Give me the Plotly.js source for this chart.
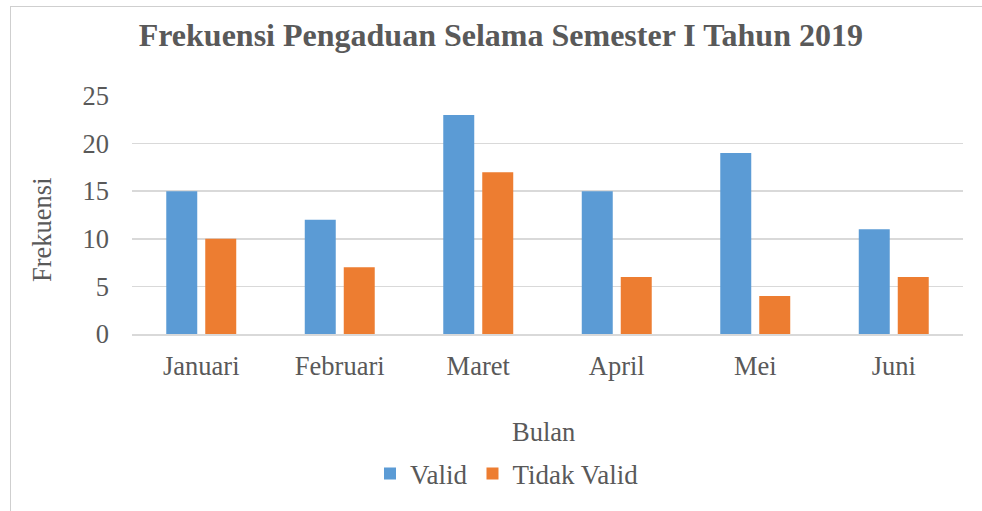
<!DOCTYPE html>
<html>
<head>
<meta charset="utf-8">
<script src="https://cdn.plot.ly/plotly-3.0.1.min.js"></script>
<style>
html,body{margin:0;padding:0;background:#fff;}
#frame{position:absolute;left:10px;top:6px;width:1000px;height:600px;border-left:1.5px solid #cfcfcf;border-top:1.5px solid #cfcfcf;pointer-events:none;}
#chart{position:absolute;left:0;top:0;width:982px;height:511px;}
</style>
</head>
<body>
<div id="chart"></div>
<div id="frame"></div>
<script>
const categories = ["Januari", "Februari", "Maret", "April", "Mei", "Juni"];
const validValues = [15, 12, 23, 15, 19, 11];
const tidakValidValues = [10, 7, 17, 6, 4, 6];
const seriesNames = ["Valid", "Tidak Valid"];
const yTicks = [0, 5, 10, 15, 20, 25];

const textColor = "#595959";
const fontFam = "Liberation Serif";

const data = [
  {type: "bar", name: seriesNames[0], x: categories, y: validValues, marker: {color: "#5B9BD5"}},
  {type: "bar", name: seriesNames[1], x: categories, y: tidakValidValues, marker: {color: "#ED7D31"}}
];

const layout = {
  width: 982, height: 511,
  margin: {l: 132, r: 19, t: 96, b: 177},
  paper_bgcolor: "rgba(0,0,0,0)", plot_bgcolor: "rgba(0,0,0,0)",
  font: {family: fontFam, color: textColor, size: 26.5},
  title: {text: "<b>Frekuensi Pengaduan Selama Semester I Tahun 2019</b>", x: 0.51, xanchor: "center", y: 0.932, yanchor: "middle", font: {size: 32, color: textColor, family: fontFam}},
  barmode: "group", bargap: 0.437, bargroupgap: 0.205,
  xaxis: {
    showgrid: false, showline: true, linecolor: "#d9d9d9", linewidth: 1.5,
    ticks: "", ticklabelstandoff: 8,
    tickfont: {size: 26.5, color: textColor, family: fontFam}
  },
  yaxis: {
    range: [0, 25], tickvals: yTicks, showgrid: true, gridcolor: "#d9d9d9", gridwidth: 1.5,
    zeroline: false, showline: false, ticks: "", ticklabelstandoff: 22,
    tickfont: {size: 26.5, color: textColor, family: fontFam}
  },
  annotations: [
    {text: "Frekuensi", xref: "paper", yref: "paper", x: -0.1083, y: 0.437, xanchor: "center", yanchor: "middle", textangle: -90, showarrow: false, font: {size: 26.5, color: textColor, family: fontFam}},
    {text: "Bulan", xref: "paper", yref: "paper", x: 0.4946, y: -0.412, xanchor: "center", yanchor: "middle", showarrow: false, font: {size: 26.5, color: textColor, family: fontFam}}
  ],
  showlegend: true,
  legend: {orientation: "h", x: 0.2864, xanchor: "left", y: -0.588, yanchor: "middle", font: {size: 27, color: textColor, family: fontFam}, itemwidth: 30, traceorder: "normal"}
};

Plotly.newPlot("chart", data, layout, {displayModeBar: false, staticPlot: true});
</script>
</body>
</html>
